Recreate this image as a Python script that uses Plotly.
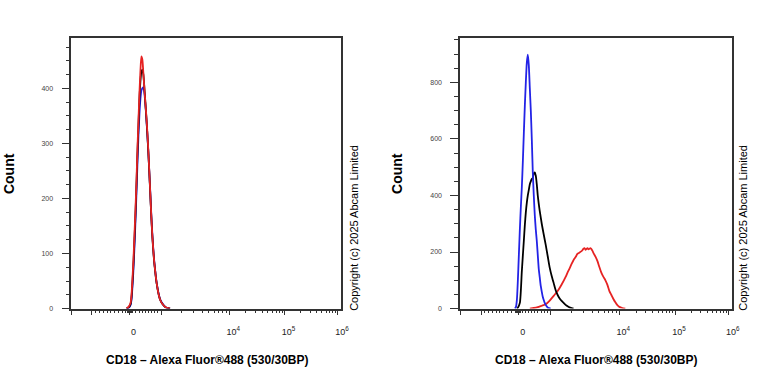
import numpy as np
import plotly.graph_objects as go

# ---------------- data (histogram bins in display channels, counts) ----------------
LEFT_CH = [56, 58, 60, 61, 62, 63, 64, 65, 66, 67, 68, 69, 70, 71, 72, 73, 74, 75, 76, 77,
           78, 79, 80, 81, 82, 83, 84, 85, 86, 87, 88, 89, 90, 92, 94, 96, 98, 100]
LEFT_BLUE = [0, 1, 6, 16, 40, 72, 112, 158, 208, 262, 312, 352, 380, 396, 400, 402, 392, 372, 346, 318,
             286, 250, 212, 172, 138, 110, 87, 69, 53, 41, 31, 23, 17, 10, 5, 2, 1, 0]
LEFT_BLACK = [0, 2, 8, 20, 48, 82, 125, 170, 222, 280, 330, 378, 412, 430, 434, 425, 402, 375, 348, 318,
              285, 248, 208, 168, 134, 106, 84, 67, 51, 40, 30, 22, 16, 9, 5, 2, 1, 0]
LEFT_RED = [0, 3, 10, 25, 55, 90, 135, 180, 230, 290, 340, 390, 430, 458, 452, 428, 400, 375, 350, 322,
            288, 250, 210, 170, 135, 108, 85, 68, 52, 40, 30, 22, 16, 9, 5, 2, 1, 0]

R_BLUE_CH = [55, 56, 57, 58, 59, 60, 61, 62, 63, 64, 65, 66, 67, 68, 69, 70, 71, 72, 73, 74,
             75, 76, 77, 78, 79, 80, 81, 82, 83, 84, 85, 86, 87, 88, 89, 90, 91]
R_BLUE = [0, 5, 30, 100, 190, 280, 360, 430, 520, 620, 717, 800, 870, 898, 860, 780, 700, 600, 483, 400,
          330, 280, 240, 190, 140, 110, 80, 60, 42, 30, 20, 13, 8, 4, 2, 1, 0]

R_BLACK_CH = [57, 58, 60, 62, 64, 65, 66, 67, 68, 69, 70, 71, 72, 73, 74, 75, 76, 77, 78, 79,
              80, 82, 84, 86, 88, 90, 92, 94, 96, 98, 100, 102, 104, 106, 108, 110, 112, 114]
R_BLACK = [0, 3, 20, 133, 240, 295, 340, 375, 400, 420, 440, 450, 458, 462, 478, 482, 470, 440, 400, 370,
           345, 300, 262, 225, 185, 145, 115, 90, 65, 48, 36, 27, 20, 13, 8, 4, 2, 0]

R_RED_CH = [70, 74, 78, 82, 86, 90, 94, 98, 102, 106, 108, 110, 112, 114, 116, 118, 120, 122, 123, 124,
            125, 126, 127, 128, 129, 130, 131, 132, 133, 134, 136, 138, 140, 142, 144, 146, 148, 150, 152, 154,
            156, 158, 160, 163, 166]
R_RED = [0, 2, 5, 10, 15, 28, 45, 62, 85, 112, 128, 142, 158, 172, 182, 194, 198, 203, 207, 212,
         214, 208, 211, 214, 209, 212, 214, 210, 204, 196, 184, 168, 146, 126, 112, 100, 84, 62, 48, 34,
         22, 12, 6, 2, 0]

# ---------------- axis scale (biexponential display) ----------------
B_ANCH = [-4, -3, 0, 3, 4, 5, 6]
POS_ANCH = [0, 21, 59, 91, 160, 216, 270]


def biex(v):
    v = np.asarray(v, dtype=float)
    b = np.where(np.abs(v) <= 1000, v / 1000 * 3, np.sign(v) * np.log10(np.maximum(np.abs(v), 1)))
    return np.interp(b, B_ANCH, POS_ANCH)


MAJOR_VALS = [-1e4, -1e3, 0, 1e3, 1e4, 1e5, 1e6]
MAJOR_TEXT = ["", "", "0", "", "10<sup>4</sup>", "10<sup>5</sup>", "10<sup>6</sup>"]
minor_vals = [-900, -800, -700, -600, -500, -400, -300, -200, -100, -50, -25, 25, 50,
              100, 200, 300, 400, 500, 600, 700, 800, 900]
for dec in [1e3, 1e4, 1e5]:
    minor_vals += [k * dec for k in range(2, 10)]

X_TITLE = "CD18 – Alexa Fluor®488 (530/30BP)"
COPYRIGHT = "Copyright (c) 2025 Abcam Limited"

FONT = "Arial, Liberation Sans, sans-serif"
BLUE = "#2323e6"
RED = "#e62323"
BLACK = "#000000"

fig = go.Figure()


def add(x, y, color, xa, ya):
    fig.add_trace(go.Scatter(x=x, y=y, mode="lines",
                             line=dict(color=color, width=1.8, shape="spline", smoothing=0.6),
                             xaxis=xa, yaxis=ya, showlegend=False, hoverinfo="skip"))


add(LEFT_CH, LEFT_BLUE, BLUE, "x", "y")
add(LEFT_CH, LEFT_BLACK, BLACK, "x", "y")
add(LEFT_CH, LEFT_RED, RED, "x", "y")
add(R_RED_CH, R_RED, RED, "x2", "y2")
add(R_BLACK_CH, R_BLACK, BLACK, "x2", "y2")
add(R_BLUE_CH, R_BLUE, BLUE, "x2", "y2")

W, H = 768, 384


def px(x):
    return x / W


def py(y):
    return 1 - y / H


y_dom = [py(311), py(38)]
xdoms = [[px(72), px(345)], [px(465), px(740)]]

axis_line = "#333333"
xcommon = dict(range=[0, 273.5], tickmode="array", tickvals=list(biex(MAJOR_VALS)), ticktext=MAJOR_TEXT,
               ticks="outside", ticklen=5, tickwidth=1.3, tickcolor=axis_line,
               minor=dict(tickmode="array", tickvals=list(biex(minor_vals)), ticks="outside", ticklen=3,
                          tickwidth=1, tickcolor=axis_line),
               showline=True, linecolor=axis_line, linewidth=1.5, mirror=True, showgrid=False, zeroline=False,
               tickfont=dict(family=FONT, size=9, color="#222222"), ticklabelstandoff=9, ticklabelshift=4,
               fixedrange=True)

ycommon = dict(ticks="outside", ticklen=8, tickwidth=1.3, tickcolor=axis_line,
               showline=True, linecolor=axis_line, linewidth=1.5, mirror=True, showgrid=False, zeroline=False,
               tickfont=dict(family=FONT, size=7, color="#444444"), ticklabelstandoff=7, fixedrange=True)

# initial size leaves room for the default 8px page margin; the post script
# removes that margin and resizes the figure to the full 768x384 window
fig.update_layout(
    width=W - 16, height=H - 16, margin=dict(l=0, r=0, t=0, b=0),
    paper_bgcolor="white", plot_bgcolor="white", showlegend=False,
    xaxis=dict(domain=xdoms[0], anchor="y", **xcommon),
    xaxis2=dict(domain=xdoms[1], anchor="y2", **xcommon),
    yaxis=dict(domain=y_dom, anchor="x", range=[0, 492], tickvals=[0, 100, 200, 300, 400],
               minor=dict(dtick=25, tick0=0, ticks="outside", ticklen=4, tickwidth=1, tickcolor=axis_line),
               **ycommon),
    yaxis2=dict(domain=y_dom, anchor="x2", range=[0, 958], tickvals=[0, 200, 400, 600, 800],
                minor=dict(dtick=50, tick0=0, ticks="outside", ticklen=4, tickwidth=1, tickcolor=axis_line),
                **ycommon),
)

ann = []
for cx_count, cx_title, cx_copy in [(9, 210, 357), (401, 603, 750)]:
    ann.append(dict(text="<b>Count</b>", x=px(cx_count), y=py(174.5), xref="paper", yref="paper",
                    textangle=-90, showarrow=False, xanchor="center", yanchor="middle",
                    font=dict(family=FONT, size=14, color="#000000")))
    ann.append(dict(text="<b>" + X_TITLE + "</b>", x=px(cx_title), y=py(363), xref="paper", yref="paper",
                    showarrow=False, xanchor="center", yanchor="middle",
                    font=dict(family=FONT, size=12, color="#000000")))
    ann.append(dict(text=COPYRIGHT, x=px(cx_copy), y=py(315), xref="paper", yref="paper",
                    textangle=-90, showarrow=False, xanchor="center", yanchor="bottom",
                    font=dict(family=FONT, size=11, color="#000000")))
fig.update_layout(annotations=ann)

POST = """
var gd = document.getElementById('{plot_id}');
document.documentElement.style.overflow = 'hidden';
document.body.style.margin = '0';
document.body.style.overflow = 'hidden';
gd.style.width = '%dpx';
gd.style.height = '%dpx';
return Plotly.relayout(gd, {width: %d, height: %d});
""" % (W, H, W, H)

fig.write_html("out.html", config={"displayModeBar": False}, post_script=POST)
